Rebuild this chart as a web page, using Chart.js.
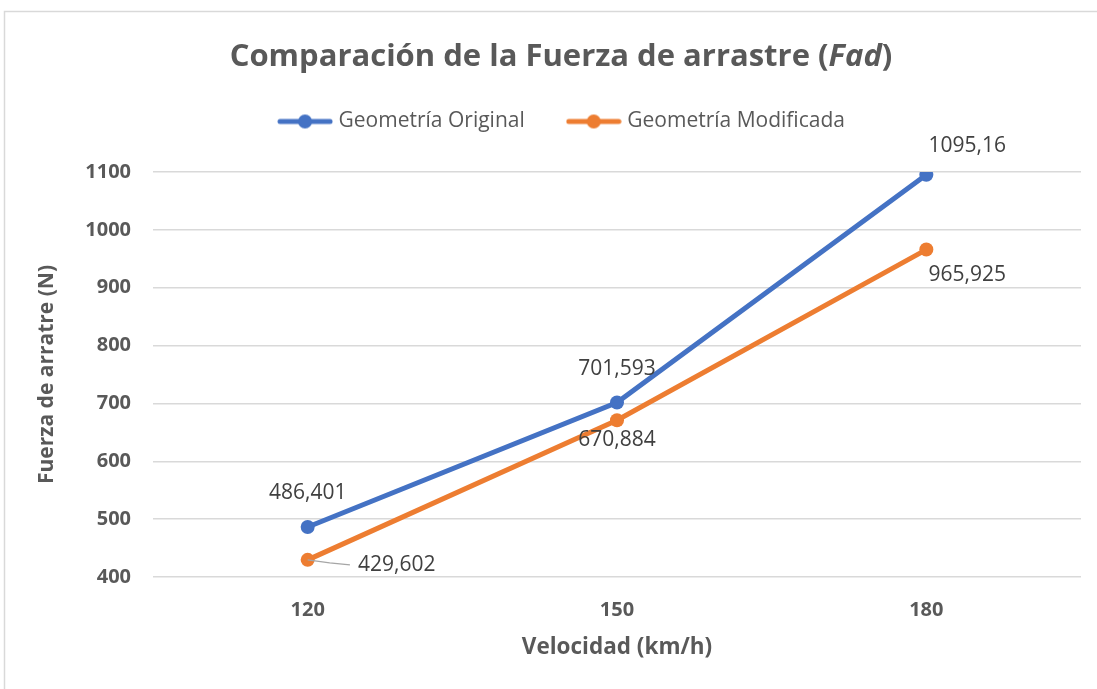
<!DOCTYPE html>
<html>
<head>
<meta charset="utf-8">
<script src="https://cdn.jsdelivr.net/npm/chart.js@4"></script>
<style>
  html, body { margin: 0; padding: 0; background: #fff; }
  #wrap { width: 1097px; height: 689px; }
</style>
</head>
<body>
<div id="wrap"><canvas id="fad"></canvas></div>
<script>
const velocidades = ['120', '150', '180'];
const original = [486.401, 701.593, 1095.16];
const modificada = [429.602, 670.884, 965.925];
const yTicks = [400, 500, 600, 700, 800, 900, 1000, 1100];

const blue = '#4472C4';
const orange = '#ED7D31';
const gray = '#595959';

// legend marker: a short line with a dot in the middle
function lineMarker(color) {
    const c = document.createElement('canvas');
    c.width = 56;
    c.height = 16;
    const ctx = c.getContext('2d');
    ctx.strokeStyle = color;
    ctx.lineWidth = 5;
    ctx.lineCap = 'round';
    ctx.beginPath();
    ctx.moveTo(3, 8);
    ctx.lineTo(53, 8);
    ctx.stroke();
    ctx.fillStyle = color;
    ctx.beginPath();
    ctx.arc(28, 8, 7, 0, Math.PI * 2);
    ctx.fill();
    return c;
}

// white background, outer frame and the title (Fad in italics)
const frame = {
    id: 'frame',
    afterLayout(chart, args, opts) {
        // nudge the legend to sit under the title
        const lg = chart.legend;
        lg.left += opts.legendShift[0];
        lg.right += opts.legendShift[0];
        lg.top += opts.legendShift[1];
        lg.bottom += opts.legendShift[1];
    },
    beforeDraw(chart, args, opts) {
        const ctx = chart.ctx;
        ctx.save();
        ctx.fillStyle = '#fff';
        ctx.fillRect(0, 0, chart.width, chart.height);
        ctx.strokeStyle = '#D9D9D9';
        ctx.lineWidth = 1.5;
        ctx.strokeRect(4.5, 11.5, 2000, 2000);

        const parts = [
            ['Comparación de la Fuerza de arrastre (', 'bold'],
            ['Fad', 'italic bold'],
            [')', 'bold']
        ];
        const size = opts.titleSize;
        let total = 0;
        parts.forEach(p => {
            ctx.font = `${p[1]} ${size}px "Open Sans"`;
            p.push(ctx.measureText(p[0]).width);
            total += p[2];
        });
        let x = opts.titleX - total / 2;
        ctx.fillStyle = gray;
        ctx.textAlign = 'left';
        ctx.textBaseline = 'middle';
        parts.forEach(p => {
            ctx.font = `${p[1]} ${size}px "Open Sans"`;
            ctx.fillText(p[0], x, opts.titleY);
            x += p[2];
        });
        ctx.restore();
    }
};

// value labels next to each point, written with a decimal comma
const valueLabels = {
    id: 'valueLabels',
    afterDatasetsDraw(chart, args, opts) {
        const ctx = chart.ctx;
        ctx.save();
        ctx.font = '21px "Open Sans"';
        ctx.fillStyle = '#404040';
        ctx.textAlign = 'center';
        ctx.textBaseline = 'middle';
        chart.data.datasets.forEach((ds, i) => {
            const meta = chart.getDatasetMeta(i);
            meta.data.forEach((pt, j) => {
                const [dx, dy] = opts.offsets[i][j];
                const text = String(ds.data[j]).replace('.', ',');
                const x = pt.x + dx;
                const y = pt.y + dy;
                if (opts.leader[i] && opts.leader[i][j]) {
                    const w = ctx.measureText(text).width;
                    ctx.strokeStyle = '#A6A6A6';
                    ctx.lineWidth = 1.5;
                    ctx.beginPath();
                    ctx.moveTo(pt.x, pt.y);
                    ctx.lineTo(pt.x + 22, pt.y + 3);
                    ctx.lineTo(x - w / 2 - 8, y);
                    ctx.stroke();
                }
                ctx.fillText(text, x, y);
            });
        });
        ctx.restore();
    }
};

new Chart(document.getElementById('fad'), {
    type: 'line',
    data: {
        labels: velocidades,
        datasets: [{
            label: 'Geometría Original',
            data: original,
            borderColor: blue,
            backgroundColor: blue,
            borderWidth: 5,
            pointRadius: 7,
            pointHoverRadius: 7,
            pointBorderWidth: 0,
            tension: 0
        }, {
            label: 'Geometría Modificada',
            data: modificada,
            borderColor: orange,
            backgroundColor: orange,
            borderWidth: 5,
            pointRadius: 7,
            pointHoverRadius: 7,
            pointBorderWidth: 0,
            tension: 0
        }]
    },
    options: {
        responsive: true,
        maintainAspectRatio: false,
        animation: false,
        layout: { padding: { left: 4, right: 16, top: 95, bottom: 0 } },
        plugins: {
            title: { display: false },
            frame: {
                titleX: 561,
                titleY: 57,
                titleSize: 31,
                legendShift: [21, -30]
            },
            legend: {
                labels: {
                    color: gray,
                    font: { family: 'Open Sans', size: 21 },
                    usePointStyle: true,
                    pointStyleWidth: 46,
                    padding: 46,
                    generateLabels(chart) {
                        return chart.data.datasets.map((ds, i) => ({
                            text: ds.label,
                            fontColor: gray,
                            pointStyle: lineMarker(ds.borderColor),
                            strokeStyle: ds.borderColor,
                            fillStyle: ds.borderColor,
                            lineWidth: 0,
                            datasetIndex: i
                        }));
                    }
                }
            },
            tooltip: { enabled: false },
            valueLabels: {
                offsets: [
                    [[0, -34], [0, -33], [41, -29]],
                    [[89, 5], [0, 20], [41, 25]]
                ],
                leader: [[], [true]]
            }
        },
        scales: {
            x: {
                offset: true,
                grid: { display: false },
                border: { display: false },
                ticks: {
                    color: gray,
                    padding: 13,
                    font: { family: 'Open Sans', size: 20, weight: 'bold' }
                },
                title: {
                    display: true,
                    text: 'Velocidad (km/h)',
                    color: gray,
                    font: { family: 'Open Sans', size: 22.5, weight: 'bold' },
                    padding: { top: 0, bottom: 28 }
                },
                afterFit(scale) { scale.height = 112; }
            },
            y: {
                min: yTicks[0],
                max: yTicks[yTicks.length - 1],
                afterBuildTicks(scale) {
                    scale.ticks = yTicks.map(v => ({ value: v }));
                },
                grid: { color: '#D9D9D9', lineWidth: 1.5, drawTicks: false },
                border: { display: false },
                ticks: {
                    color: gray,
                    padding: 22,
                    font: { family: 'Open Sans', size: 20, weight: 'bold' },
                    callback: v => String(v)
                },
                title: {
                    display: true,
                    text: 'Fuerza de arratre (N)',
                    color: gray,
                    font: { family: 'Open Sans', size: 21, weight: 'bold' },
                    padding: { top: 30, bottom: 0 }
                },
                afterFit(scale) { scale.width = 149; }
            }
        }
    },
    plugins: [frame, valueLabels]
});
</script>
</body>
</html>
